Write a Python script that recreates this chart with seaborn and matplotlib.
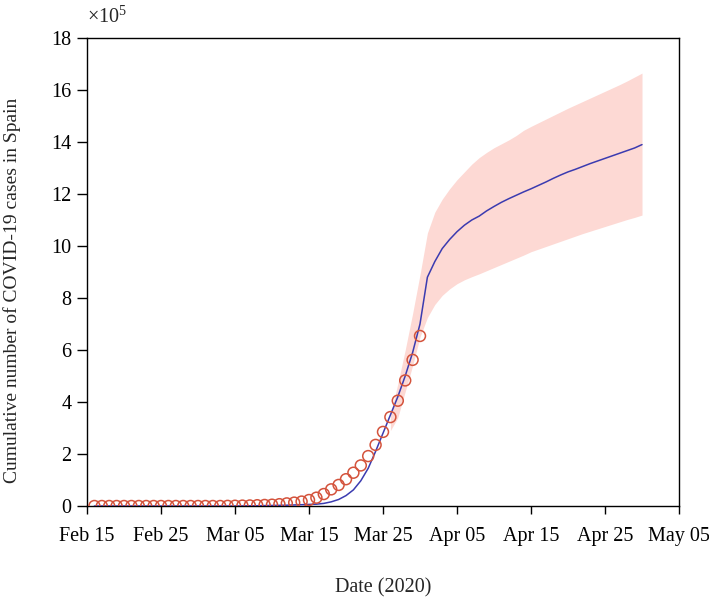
import numpy as np
import pandas as pd
import matplotlib
matplotlib.use("Agg")
import matplotlib.pyplot as plt
import seaborn as sns

# ---- data (day index from Feb 15; values in units of 1e5) ----
obs_day = list(range(1, 46))
obs_cases = [0.0]*18 + [0.005, 0.01, 0.015, 0.02, 0.03, 0.04, 0.05, 0.07, 0.10,
                        0.13, 0.17, 0.23, 0.32, 0.46, 0.64, 0.81, 1.03, 1.28, 1.56,
                        1.92, 2.35, 2.85, 3.42, 4.05, 4.83, 5.62, 6.54]

fit_day = list(range(1, 76))
fit_cases = ([0.0]*20 +
             [0.005, 0.007, 0.01, 0.015, 0.02, 0.025, 0.03, 0.04, 0.05, 0.06,
              0.07, 0.10, 0.16, 0.25, 0.40, 0.62, 0.97, 1.45, 2.1, 2.8,
              3.5, 4.2, 5.0, 5.9, 7.0, 8.8, 9.4, 9.9, 10.25, 10.55,
              10.8, 11.0, 11.15, 11.35, 11.52, 11.68, 11.82, 11.95, 12.08, 12.2,
              12.33, 12.46, 12.6, 12.73, 12.85, 12.95, 13.06, 13.17, 13.27, 13.37,
              13.47, 13.57, 13.67, 13.77, 13.9])

band_day = list(range(41, 76))
band_low = [2.9, 3.4, 4.4, 5.4, 6.5, 7.25, 7.75, 8.1, 8.35, 8.55,
            8.7, 8.82, 8.93, 9.05, 9.17, 9.29, 9.41, 9.53, 9.65, 9.78,
            9.88, 9.98, 10.08, 10.18, 10.28, 10.38, 10.48, 10.57, 10.66, 10.75,
            10.84, 10.93, 11.02, 11.1, 11.19]
band_high = [3.5, 4.7, 6.0, 7.4, 8.9, 10.5, 11.3, 11.8, 12.2, 12.55,
             12.85, 13.15, 13.4, 13.6, 13.78, 13.93, 14.08, 14.25, 14.45, 14.6,
             14.74, 14.88, 15.02, 15.16, 15.3, 15.43, 15.56, 15.69, 15.82, 15.95,
             16.08, 16.21, 16.35, 16.5, 16.65]

tick_pos = [0, 10, 20, 30, 40, 50, 60, 70, 80]
tick_labels = ["Feb 15", "Feb 25", "Mar 05", "Mar 15", "Mar 25",
               "Apr 05", "Apr 15", "Apr 25", "May 05"]
y_ticks = [0, 2, 4, 6, 8, 10, 12, 14, 16, 18]

sns.set_style("ticks")
plt.rcParams['font.family'] = ['Liberation Serif', 'DejaVu Serif']
plt.rcParams['mathtext.fontset'] = 'custom'
plt.rcParams['mathtext.rm'] = 'Liberation Serif'
plt.rcParams['mathtext.it'] = 'Liberation Serif:italic'

FS = 14.5

fig = plt.figure(figsize=(7.09, 5.99), dpi=100)
ax = fig.add_axes([87/709, 1-506/599, (679-87)/709, (506-38)/599])

ax.fill_between(band_day, band_low, band_high, color="#fdd9d4", linewidth=0, zorder=1)

fit_df = pd.DataFrame({"day": fit_day, "cases": fit_cases})
sns.lineplot(data=fit_df, x="day", y="cases", ax=ax, color="#3b3bb0",
             linewidth=1.1, zorder=3)

obs_df = pd.DataFrame({"day": obs_day, "cases": obs_cases})
sns.scatterplot(data=obs_df, x="day", y="cases", ax=ax, marker="o", s=62,
                facecolor="none", edgecolor="#d4533c", linewidth=1.1, zorder=4)

ax.set_xlim(0, 80)
ax.set_ylim(0, 18)
ax.set_xticks(tick_pos)
ax.set_xticklabels(tick_labels)
ax.set_yticks(y_ticks)
ax.tick_params(axis="x", direction="out", length=6, width=1, labelsize=FS,
               colors="black", pad=9)
ax.tick_params(axis="y", direction="out", length=7, width=1, labelsize=FS,
               colors="black", pad=4)
for sp in ax.spines.values():
    sp.set_visible(True)
    sp.set_color("black")
    sp.set_linewidth(1)

ax.set_xlabel("Date (2020)", fontsize=FS)
ax.xaxis.set_label_coords(0.5, -0.155)
ax.set_ylabel("Cumulative number of COVID-19 cases in Spain", fontsize=14)
ax.yaxis.set_label_coords(-0.111, 0.46)
ax.text(0.0, 1.022, r"$\times10^5$", transform=ax.transAxes, fontsize=FS,
        ha="left", va="bottom")

fig.savefig("out.png", dpi=100)
